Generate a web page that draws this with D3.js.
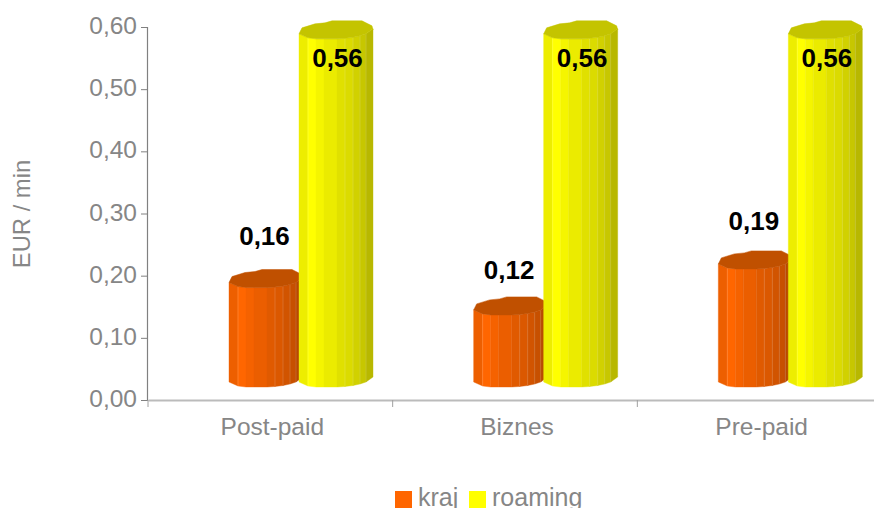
<!DOCTYPE html>
<html><head><meta charset="utf-8">
<script src="https://cdn.jsdelivr.net/npm/d3@7"></script>
<style>html,body{margin:0;padding:0;background:#fff}svg{display:block}text{font-family:"Liberation Sans",Arial,sans-serif}</style>
</head><body><svg id="c" width="874" height="508"></svg>
<script>
const categories = ["Post-paid","Biznes","Pre-paid"];
const seriesNames = ["kraj","roaming"];
const kraj = [0.16,0.116,0.19];
const roaming = [0.56,0.56,0.56];
const krajLabels = ["0,16","0,12","0,19"];
const roamingLabels = ["0,56","0,56","0,56"];
const yTicks = [0,0.1,0.2,0.3,0.4,0.5,0.6];
const seriesColors = ["#ff6600","#ffff00"];
const topColors = ["#c05000","#c4c400"];

const W=874,H=508;
const svg=d3.select("#c");
const y=d3.scaleLinear().domain([0,0.6]).range([400,27]);
const x=d3.scaleBand().domain(categories).range([148,882]);
const grey="#868686";
const axisGrey="#808080";

const facetX=[0,9,17,25,38,46,54,61,67,74];
const facetDrop=[5,1,0,0,0,0.5,1.5,3,5,10];
const shade=[0.93,1,0.96,0.92,0.88,0.86,0.82,0.78,0.72];
const seamAt=[1,5,6,7,8];
const backPts=[[74,-9],[73,-13],[63,-18],[33,-18],[26,-16],[16,-15],[3,-11]];
const depth=13;

function mix(c,k){const r=d3.rgb(c);return d3.rgb(r.r*k,r.g*k,r.b*k).formatHex();}

function column(g,x0,v,color,topColor){
  const base=y(0)-depth;
  const top=y(v)-depth;
  facetX.slice(0,-1).forEach((fx,i)=>{
    const x1=x0+fx,x2=x0+facetX[i+1];
    const d1=facetDrop[i],d2=facetDrop[i+1];
    g.append("path")
      .attr("d",`M${x1},${top-d1}L${x2},${top-d2}L${x2},${base-d2}L${x1},${base-d1}Z`)
      .attr("fill",mix(color,shade[i])).attr("stroke",mix(color,shade[i])).attr("stroke-width",0.4);
    if(seamAt.includes(i)){
      g.append("line").attr("x1",x1).attr("x2",x1).attr("y1",top-d1).attr("y2",base-d1)
       .attr("stroke",d3.interpolateRgb(mix(color,shade[i]),"#fff")(0.2)).attr("stroke-width",0.8);
    }
  });
  const front=facetX.map((fx,i)=>[x0+fx,top-facetDrop[i]]);
  const back=backPts.map(p=>[x0+p[0],top+p[1]]);
  g.append("path").attr("d",d3.line().curve(d3.curveLinear)(front.concat(back))+"Z")
    .attr("fill",topColor).attr("stroke",topColor).attr("stroke-width",0.5);
}

// axes
const yAxis=d3.axisLeft(y).tickValues(yTicks).tickSize(6).tickPadding(4)
  .tickFormat(d=>d3.format(".2f")(d).replace(".",","));
const gy=svg.append("g").attr("transform","translate(147,0)").call(yAxis);
gy.select(".domain").attr("stroke",axisGrey).attr("stroke-width",1.2);
gy.selectAll(".tick line").attr("stroke",axisGrey);
gy.selectAll("text").attr("fill",grey).attr("dy","0.27em").style("font-size","24.5px").style("font-family","Liberation Sans");

const xAxis=d3.axisBottom(x).tickValues([]).tickSize(0);
const gx=svg.append("g").attr("transform","translate(0,400)").call(xAxis);
gx.select(".domain").attr("stroke","#bbbbbb").attr("stroke-width",2);
const bandEdges=categories.map(c=>x(c)).concat([x(categories[2])+x.bandwidth()]);
svg.append("g").selectAll("line").data(bandEdges.filter(d=>d<W)).join("line")
  .attr("x1",d=>d).attr("x2",d=>d).attr("y1",400).attr("y2",407).attr("stroke","#a0a0a0").attr("stroke-width",1);
svg.append("g").selectAll("text").data(categories).join("text")
  .attr("x",d=>x(d)+x.bandwidth()/2+2).attr("y",435).attr("text-anchor","middle")
  .attr("fill",grey).style("font-size","24.5px").text(d=>d);

svg.append("text").attr("transform","translate(30,214) rotate(-90)").attr("text-anchor","middle")
  .attr("fill",grey).style("font-size","23.8px").text("EUR / min");

// columns
const inner=d3.scaleBand().domain(seriesNames).range([81,221]);
const marks=svg.append("g");
categories.forEach((c,i)=>{
  column(marks,x(c)+inner("kraj"),kraj[i],seriesColors[0],topColors[0]);
  column(marks,x(c)+inner("roaming"),roaming[i],seriesColors[1],topColors[1]);
});

// value labels
const krajLabelGap=[65,58,61];
categories.forEach((c,i)=>{
  svg.append("text").attr("x",x(c)+inner("kraj")+35.5).attr("y",y(kraj[i])-krajLabelGap[i]+9)
    .attr("text-anchor","middle").attr("font-weight","bold").attr("fill","#000").style("font-size","26px").text(krajLabels[i]);
  svg.append("text").attr("x",x(c)+inner("roaming")+38.5).attr("y",y(roaming[i])+15)
    .attr("text-anchor","middle").attr("font-weight","bold").attr("fill","#000").style("font-size","26px").text(roamingLabels[i]);
});

// legend
const legendX=[395,469];
seriesNames.forEach((s,i)=>{
  svg.append("rect").attr("x",legendX[i]).attr("y",491).attr("width",17).attr("height",17).attr("fill",seriesColors[i]);
  svg.append("text").attr("x",legendX[i]+23).attr("y",506).attr("fill",grey).style("font-size","25px").text(s);
});
</script></body></html>
